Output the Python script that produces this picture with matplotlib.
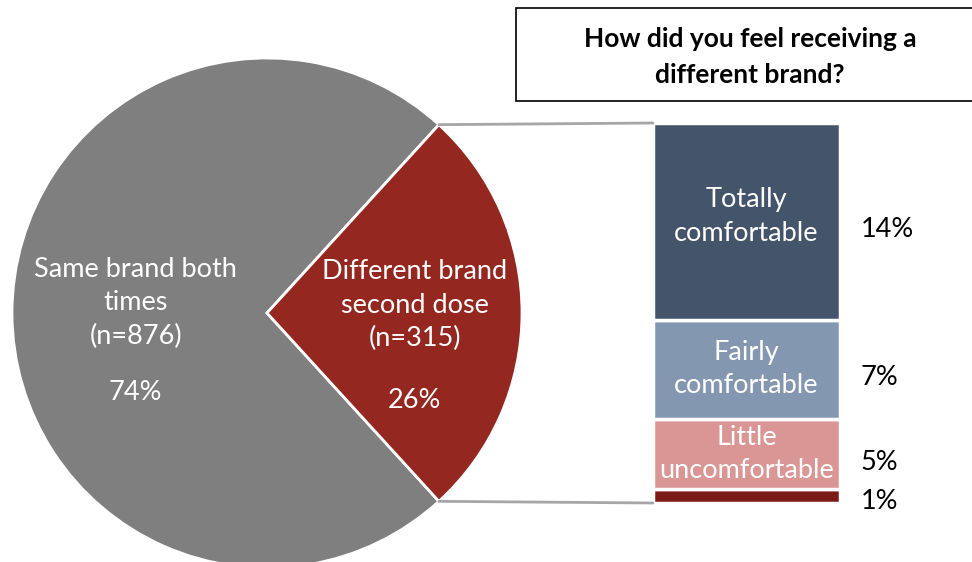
import matplotlib
matplotlib.use('Agg')
import matplotlib.pyplot as plt
from matplotlib.patches import ConnectionPatch, Rectangle
import numpy as np

plt.rcParams['font.family'] = ['Lato', 'DejaVu Sans']

# pie: who got which brand
pie_labels = ['Same brand both\ntimes\n(n=876)', 'Different brand\nsecond dose\n(n=315)']
pie_counts = [876, 315]
pie_pcts = ['74%', '26%']
pie_colors = ['#7F7F7F', '#942820']

# stacked bar: feelings among the "different brand" group (bottom to top)
bar_labels = ['', 'Little\nuncomfortable', 'Fairly\ncomfortable', 'Totally\ncomfortable']
bar_values = [1, 5, 7, 14]
bar_colors = ['#7B1A16', '#DA9694', '#8497B0', '#44546A']

title = 'How did you feel receiving a\ndifferent brand?'

W, H = 972, 562
fig = plt.figure(figsize=(W / 100, H / 100), dpi=100)

# pie axes, square in pixels: centre (267, 313), radius 255
cx, cy, r = 267, 313, 255
ax = fig.add_axes([(cx - r) / W, (H - cy - r) / H, 2 * r / W, 2 * r / H])
half = 360 * pie_counts[1] / sum(pie_counts) / 2
wedges, _ = ax.pie(pie_counts, colors=pie_colors, startangle=half, radius=1,
                   wedgeprops=dict(edgecolor='white', linewidth=2))
ax.set_xlim(-1, 1)
ax.set_ylim(-1, 1)
ax.set_aspect('auto')

fs = 19.5
ax.text(-0.515, 0.04, pie_labels[0], ha='center', va='center', color='white',
        fontsize=fs, linespacing=1.42)
ax.text(-0.515, -0.31, pie_pcts[0], ha='center', va='center', color='white', fontsize=fs)
ax.text(0.58, 0.03, pie_labels[1], ha='center', va='center', color='white',
        fontsize=fs, linespacing=1.42)
ax.text(0.58, -0.345, pie_pcts[1], ha='center', va='center', color='white', fontsize=fs)

# stacked bar axes
bx0, bx1, by_top, by_bot = 653, 840, 123, 503
bax = fig.add_axes([bx0 / W, (H - by_bot) / H, (bx1 - bx0) / W, (by_bot - by_top) / H])
bottoms = np.concatenate([[0], np.cumsum(bar_values)[:-1]])
total = sum(bar_values)
for lab, v, b, c in zip(bar_labels, bar_values, bottoms, bar_colors):
    bax.bar(0, v, bottom=b, width=1, color=c, edgecolor='white', linewidth=2.5)
    if lab:
        yc = b + v / 2 + (0.35 if v > 10 else 0)
        bax.text(0, yc, lab, ha='center', va='center', color='white',
                 fontsize=fs, linespacing=1.42)
for v, b in zip(bar_values, bottoms):
    yl = b + v / 2 - 0.6 if v > 1 else b + 0.1
    bax.text(0.61, yl, f'{v}%', ha='left', va='center',
             color='black', fontsize=fs, clip_on=False)
bax.set_xlim(-0.5, 0.5)
bax.set_ylim(0, total)
bax.axis('off')

# connector lines from the red wedge to the bar
for ang, yb in [(half, total), (-half, 0)]:
    a = np.deg2rad(ang)
    con = ConnectionPatch(xyA=(np.cos(a), np.sin(a)), coordsA=ax.transData,
                          xyB=(-0.5, yb), coordsB=bax.transData,
                          color='#A6A6A6', linewidth=2)
    fig.add_artist(con)

# title box
fig.add_artist(Rectangle((516 / W, (H - 101) / H), (W - 516 + 10) / W, 93 / H,
                         transform=fig.transFigure, facecolor='white',
                         edgecolor='black', linewidth=1.2))
fig.text(750 / W, (H - 57) / H, title, ha='center', va='center', fontsize=19,
         fontweight='bold', linespacing=1.62)

fig.savefig('out.png', dpi=100)
